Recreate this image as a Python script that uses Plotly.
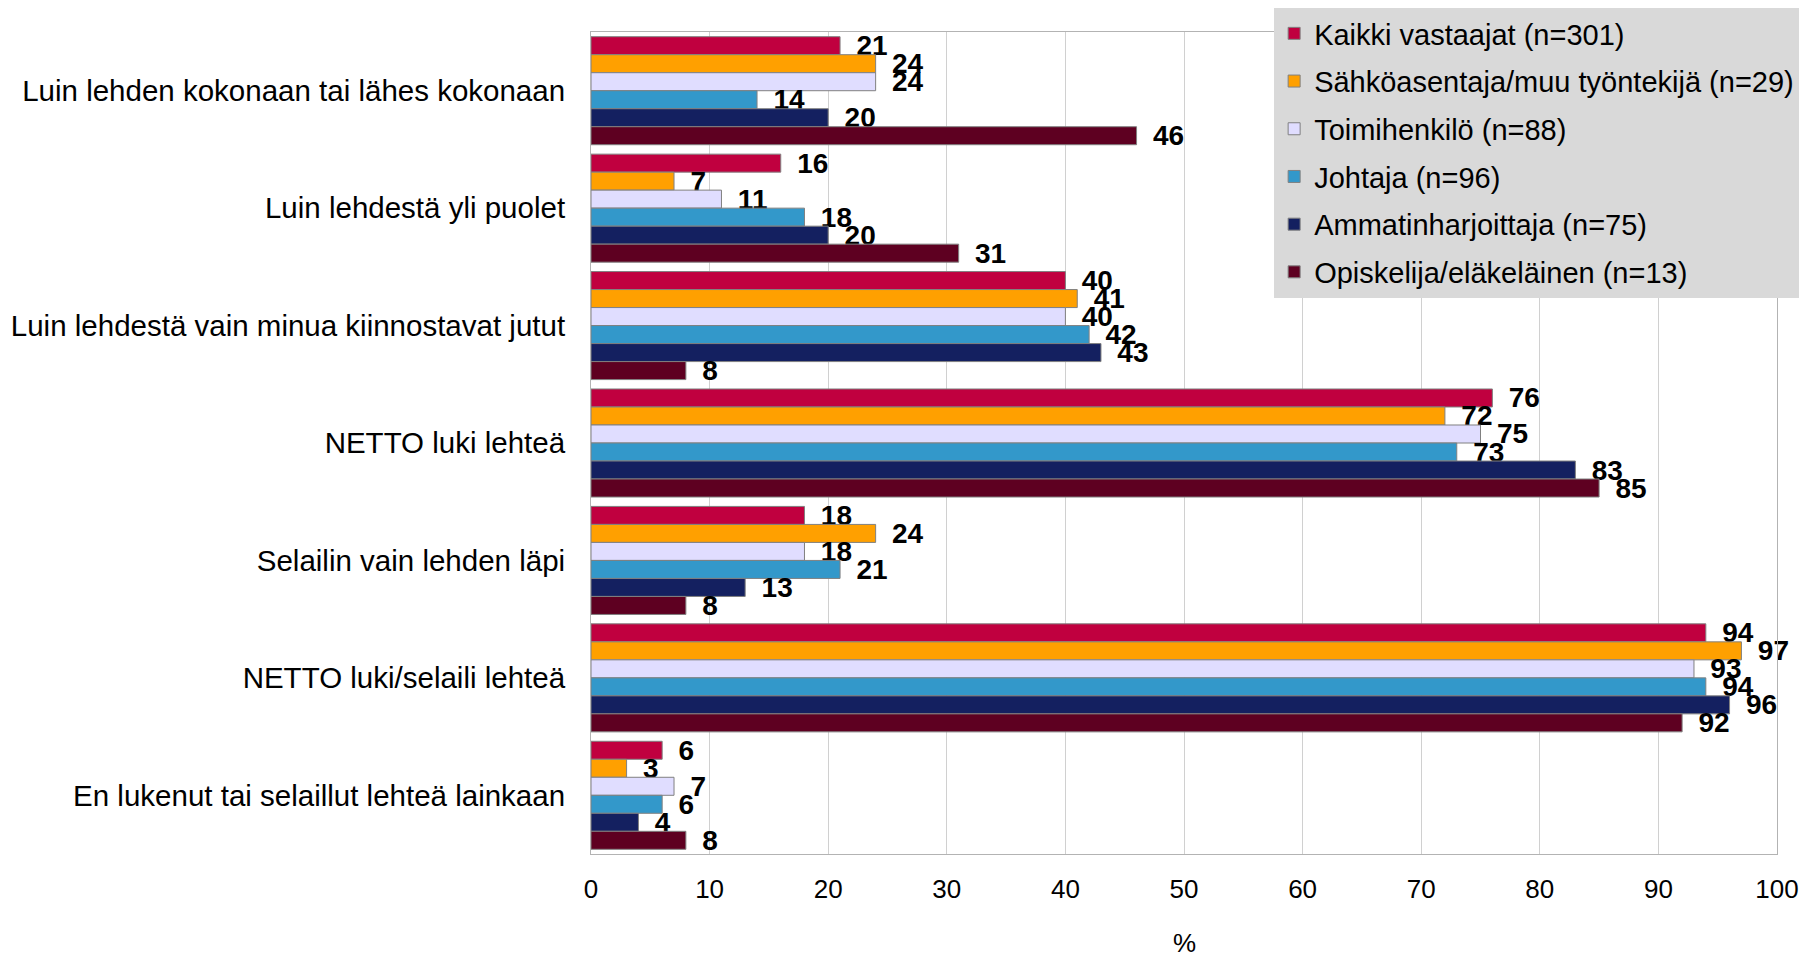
import plotly.graph_objects as go

# -------------------------------------------------
# Data
# -------------------------------------------------

categories = [
    "Luin lehden kokonaan tai lähes kokonaan",
    "Luin lehdestä yli puolet",
    "Luin lehdestä vain minua kiinnostavat jutut",
    "NETTO luki lehteä",
    "Selailin vain lehden läpi",
    "NETTO luki/selaili lehteä",
    "En lukenut tai selaillut lehteä lainkaan",
]

series_names = [
    "Kaikki vastaajat (n=301)",
    "Sähköasentaja/muu työntekijä (n=29)",
    "Toimihenkilö (n=88)",
    "Johtaja (n=96)",
    "Ammatinharjoittaja (n=75)",
    "Opiskelija/eläkeläinen (n=13)",
]

kaikki = [21, 16, 40, 76, 18, 94, 6]
sahko = [24, 7, 41, 72, 24, 97, 3]
toimi = [24, 11, 40, 75, 18, 93, 7]
johtaja = [14, 18, 42, 73, 21, 94, 6]
ammat = [20, 20, 43, 83, 13, 96, 4]
opisk = [46, 31, 8, 85, 8, 92, 8]

x_ticks = [0, 10, 20, 30, 40, 50, 60, 70, 80, 90, 100]

colors = ["#c0003f", "#ffa000", "#e0ddff", "#3398ca", "#142060", "#5e0021"]

FONT = "Liberation Sans, Arial, sans-serif"

# -------------------------------------------------
# Chart
# -------------------------------------------------

fig = go.Figure()

for i, (name, vals) in enumerate(zip(series_names, [kaikki, sahko, toimi, johtaja, ammat, opisk])):
    fig.add_trace(
        go.Bar(
            y=categories,
            x=vals,
            orientation="h",
            name=name,
            legendgroup=f"g{i}",
            marker=dict(color=colors[i], line=dict(color="#808080", width=1)),
            text=["\u00a0\u2009" + str(v) for v in vals],
            textposition="outside",
            constraintext="none",
            cliponaxis=False,
            textfont=dict(family=FONT, size=28, color="black", weight="bold"),
        )
    )

# x axis title as an annotation so it doesn't push the bottom margin
fig.add_annotation(
    text="%",
    xref="paper",
    yref="paper",
    x=0.5,
    y=-0.108,
    xanchor="center",
    yanchor="middle",
    showarrow=False,
    font=dict(size=26),
)

# page body has an 8px margin, so the figure is shifted a bit
fig.update_layout(
    width=1800,
    height=952,
    template="plotly_white",
    plot_bgcolor="white",
    paper_bgcolor="white",
    barmode="group",
    bargap=0.08,
    bargroupgap=0,
    margin=dict(l=583, r=31, t=24, b=106, autoexpand=False),
    font=dict(family=FONT, size=28, color="black"),
    legend=dict(
        x=0.576,
        y=1.0,
        xanchor="left",
        yanchor="top",
        yref="container",
        bgcolor="#d9d9d9",
        borderwidth=0,
        font=dict(size=29),
        traceorder="grouped",
        tracegroupgap=7,
    ),
    xaxis=dict(
        range=[0, 100],
        tickvals=x_ticks,
        showgrid=True,
        gridcolor="#d0d0d0",
        gridwidth=1,
        zeroline=False,
        showline=True,
        linecolor="#b3b3b3",
        mirror=True,
        ticks="",
        ticklabelstandoff=12,
        tickfont=dict(size=26),
        automargin=False,
    ),
    yaxis=dict(
        categoryorder="array",
        categoryarray=categories,
        autorange="reversed",
        showgrid=False,
        showline=True,
        linecolor="#b3b3b3",
        mirror=True,
        ticks="",
        ticklabelstandoff=19,
        tickfont=dict(size=29.5),
        automargin=False,
    ),
)

fig.write_html("out.html")
